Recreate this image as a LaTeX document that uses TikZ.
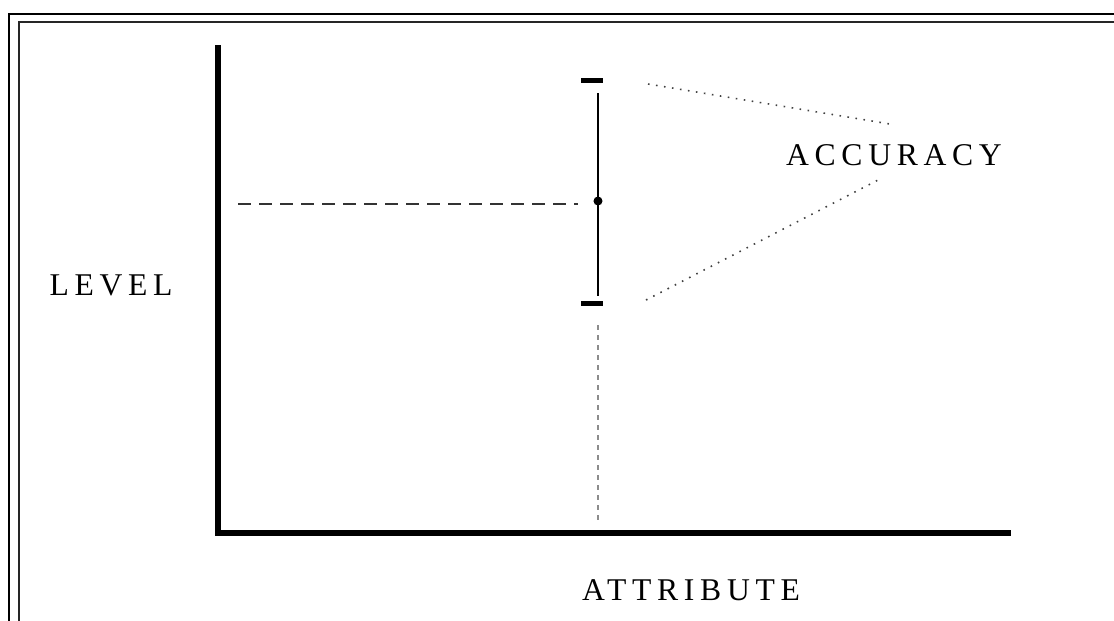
\documentclass[tikz,border=0pt]{standalone}
\usepackage{fontspec}
\setmainfont{Liberation Serif}
\newfontfamily\spacedfont[LetterSpace=18]{Liberation Serif}
\usetikzlibrary{positioning}
\tikzset{
  frame-line/.style={draw=black, line width=0.8pt},
  axis-line/.style={draw=black, line width=0.06cm, line join=miter},
  bar-line/.style={draw=black, line width=0.02cm},
  bar-cap/.style={draw=black, line width=0.05cm},
  guide-dash/.style={draw=black!80, line width=0.4pt, dash pattern=on 0.13cm off 0.08cm},
  drop-dash/.style={draw=black!45, line width=0.4pt, dash pattern=on 0.05cm off 0.05cm},
  note-dot/.style={draw=black!75, line width=0.45pt, dash pattern=on 0.45pt off 0.065cm},
  axis-label/.style={font=\spacedfont\fontsize{9}{11}\selectfont, inner sep=0pt}
}
\begin{document}
\begin{tikzpicture}[x=0.01cm, y=-0.01cm]
  \useasboundingbox (0,0) rectangle (1114,620);

  % Double frame (runs past the right and bottom edges)
  \draw[frame-line] (9,14) rectangle (1140,650);
  \draw[frame-line, line width=0.6pt, draw=black!85] (19,22) rectangle (1130,640);

  % Axes
  \coordinate (ytop) at (218,45);
  \coordinate (origin) at (218,533);
  \coordinate (xend) at (1011,533);
  \draw[axis-line] (ytop) -- (origin) -- (xend);

  % Axis labels
  \node[axis-label] (level) at (111,285) {LEVEL};
  \node[axis-label] (attr) at (691,590) {ATTRIBUTE};

  % Error bar
  \coordinate (bartop) at (598,93);
  \coordinate (barbot) at (598,296);
  \coordinate (captopl) at (581,80);
  \coordinate (captopr) at (603,80);
  \coordinate (capbotl) at (581,303);
  \coordinate (capbotr) at (603,303);
  \draw[bar-line] (bartop) -- (barbot);
  \draw[bar-cap] (captopl) -- (captopr);
  \draw[bar-cap] (capbotl) -- (capbotr);
  \node[circle, fill=black, inner sep=0pt, minimum size=0.09cm] (mean) at (598,201) {};

  % Guides to the axes
  \coordinate (levelmark) at (238,204);
  \coordinate (levelend) at (578,204);
  \draw[guide-dash] (levelmark) -- (levelend);
  \coordinate (dropstart) at (598,325);
  \coordinate (dropend) at (598,525);
  \draw[drop-dash] (dropstart) -- (dropend);

  % Accuracy note
  \node[axis-label] (acc) at (894,155) {ACCURACY};
  \coordinate (notetopa) at (648,84);
  \coordinate (notetopb) at (890,124);
  \coordinate (notebota) at (646,300);
  \coordinate (notebotb) at (878,180);
  \draw[note-dot] (notetopa) -- (notetopb);
  \draw[note-dot] (notebota) -- (notebotb);
\end{tikzpicture}
\end{document}
